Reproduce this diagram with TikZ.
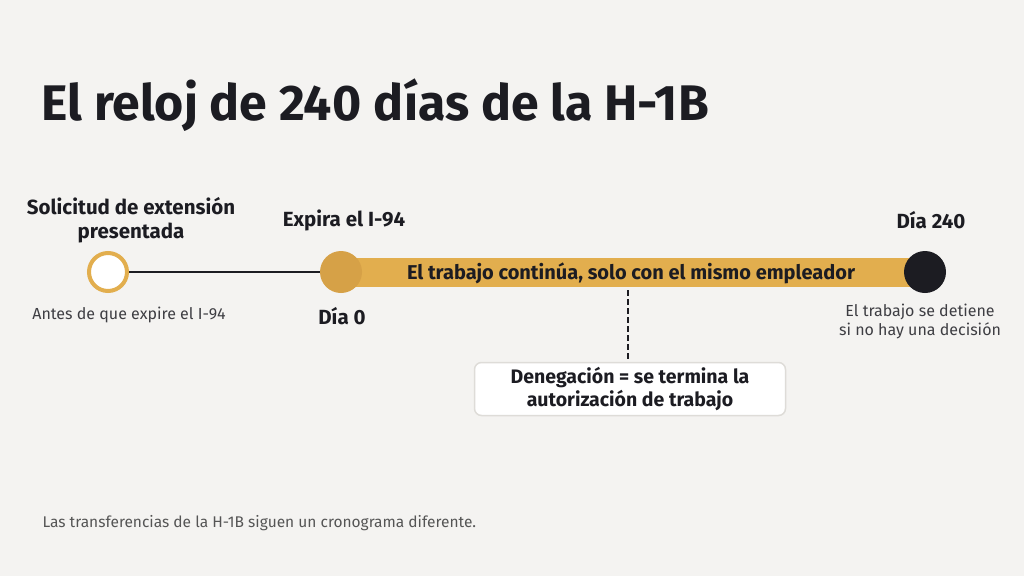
\documentclass[tikz,border=0pt]{standalone}
\usepackage{fontspec}
\setmainfont{Fira Sans}
\usepackage{tikz}
\usetikzlibrary{arrows.meta}

\definecolor{paper}{HTML}{F4F3F1}
\definecolor{gold}{HTML}{E2AE4E}
\definecolor{darkgold}{HTML}{D6A147}
\definecolor{ink}{HTML}{1C1C22}
\definecolor{note}{HTML}{555555}
\definecolor{boxline}{HTML}{DEDCD8}

\tikzset{
	heading/.style={font=\fontsize{20.5}{24}\selectfont\bfseries, text=ink, align=center},
	caption/.style={font=\fontsize{16}{19}\selectfont, text=ink!85, align=center},
	stop/.style={circle, minimum size=42pt, inner sep=0pt}
}

\begin{document}
\begin{tikzpicture}[x=1pt,y=-1pt]
	\useasboundingbox[fill=paper] (0,0) rectangle (1024,576);

	% title
	\node[anchor=base west, font=\fontsize{50}{60}\selectfont\bfseries, text=ink] (title) at (38,120) {El reloj de 240 días de la H-1B};

	% bar between day 0 and day 240
	\path[fill=gold] (341,258) rectangle (925,287);
	\node[font=\fontsize{20}{22}\selectfont\bfseries, text=ink] (bar) at (631,273) {El trabajo continúa, solo con el mismo empleador};

	% stops on the line
	\node[stop, draw=gold, line width=4pt, fill=white, minimum size=38pt] (filed) at (108,272) {};
	\node[stop, fill=darkgold] (expire) at (341,272) {};
	\node[stop, fill=ink] (end) at (925,272) {};
	\path[draw, ink, line width=2.5pt] (filed) -- (expire.west);

	% labels above
	\node[heading] (filedlab) at (131,220) {Solicitud de extensión\\presentada};
	\node[heading] (expirelab) at (344,220) {Expira el I-94};
	\node[heading] (endlab) at (931,220) {Día 240};

	% labels below
	\node[caption] (filedsub) at (129,315) {Antes de que expire el I-94};
	\node[heading] (expiresub) at (342,316) {Día 0};
	\node[caption] (endsub) at (920,321) {El trabajo se detiene\\si no hay una decisión};

	% denial box
	\node[draw=boxline, line width=1.5pt, fill=white, rounded corners=7pt, minimum width=311pt, minimum height=53pt, heading, font=\fontsize{19.5}{23}\selectfont\bfseries] (deny) at (630,389) {Denegación = se termina la\\autorización de trabajo};
	\path[draw, ink, line width=1.5pt, dash pattern=on 6pt off 3pt] (628,290) -- (deny.north -| 628,0);

	% footnote
	\node[anchor=base west, font=\fontsize{15.5}{17}\selectfont, text=note] (foot) at (39,527) {Las transferencias de la H-1B siguen un cronograma diferente.};
\end{tikzpicture}
\end{document}
